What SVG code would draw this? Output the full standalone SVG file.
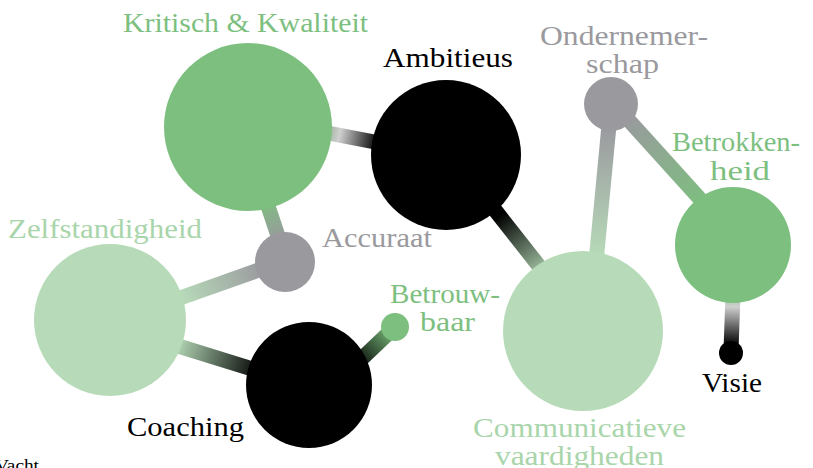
<svg xmlns="http://www.w3.org/2000/svg" width="813" height="468" viewBox="0 0 813 468">
<style>
text{font-family:"Liberation Serif","DejaVu Serif",serif;font-size:27px}
.g{fill:#7dbf7f}.lg{fill:#b7dbb9}.gr{fill:#9a999e}.k{fill:#000}
.tg{fill:#7dbf7f}.tlg{fill:#a9d5ab}.tgr{fill:#9a999e}.tk{fill:#000}
.c{stroke-width:15;fill:none}
</style>
<defs>
<linearGradient id="g1" gradientUnits="userSpaceOnUse" x1="330" y1="133" x2="378" y2="143"><stop offset="0" stop-color="#a8b8a8"/><stop offset="0.2" stop-color="#d0d0d0"/><stop offset="1" stop-color="#000"/></linearGradient>
<linearGradient id="g2" gradientUnits="userSpaceOnUse" x1="266" y1="200" x2="280" y2="240"><stop offset="0" stop-color="#7dbf7f"/><stop offset="1" stop-color="#9a999e"/></linearGradient>
<linearGradient id="g3" gradientUnits="userSpaceOnUse" x1="265" y1="268" x2="180" y2="298"><stop offset="0" stop-color="#9a999e"/><stop offset="1" stop-color="#b7dbb9"/></linearGradient>
<linearGradient id="g4" gradientUnits="userSpaceOnUse" x1="175" y1="345" x2="260" y2="372"><stop offset="0" stop-color="#b7dbb9"/><stop offset="1" stop-color="#000"/></linearGradient>
<linearGradient id="g5" gradientUnits="userSpaceOnUse" x1="355" y1="365" x2="393" y2="328"><stop offset="0" stop-color="#000"/><stop offset="1" stop-color="#7dbf7f"/></linearGradient>
<linearGradient id="g6" gradientUnits="userSpaceOnUse" x1="500" y1="215" x2="548" y2="278"><stop offset="0" stop-color="#000"/><stop offset="1" stop-color="#b7dbb9"/></linearGradient>
<linearGradient id="g7" gradientUnits="userSpaceOnUse" x1="608" y1="125" x2="596" y2="258"><stop offset="0" stop-color="#9a999e"/><stop offset="1" stop-color="#b7dbb9"/></linearGradient>
<linearGradient id="g8" gradientUnits="userSpaceOnUse" x1="625" y1="115" x2="705" y2="205"><stop offset="0" stop-color="#9a999e"/><stop offset="1" stop-color="#7dbf7f"/></linearGradient>
<linearGradient id="g9" gradientUnits="userSpaceOnUse" x1="733" y1="300" x2="731" y2="345"><stop offset="0" stop-color="#b0c8b0"/><stop offset="0.15" stop-color="#d0d0d0"/><stop offset="1" stop-color="#000"/></linearGradient>
</defs>
<g id="connectors">
<line class="c" stroke="url(#g1)" x1="328" y1="133" x2="380" y2="143"/>
<line class="c" stroke="url(#g2)" x1="266" y1="200" x2="281" y2="245"/>
<line class="c" stroke="url(#g3)" x1="270" y1="266" x2="180" y2="298"/>
<line class="c" stroke="url(#g4)" x1="175" y1="345" x2="262" y2="372"/>
<line class="c" stroke="url(#g5)" x1="355" y1="365" x2="395" y2="327"/>
<line class="c" stroke="url(#g6)" x1="495" y1="210" x2="550" y2="280"/>
<line class="c" stroke="url(#g7)" x1="610" y1="115" x2="596" y2="262"/>
<line class="c" stroke="url(#g8)" x1="615" y1="105" x2="710" y2="210"/>
<line class="c" stroke="url(#g9)" x1="733" y1="295" x2="731" y2="350"/>
</g>
<g id="kritisch"><circle class="g" cx="248" cy="127" r="84"/><text class="tg" x="123" y="32" textLength="245" lengthAdjust="spacingAndGlyphs">Kritisch &amp; Kwaliteit</text></g>
<g id="ambitieus"><circle class="k" cx="446" cy="155" r="75"/><text class="tk" x="383" y="67" textLength="130" lengthAdjust="spacingAndGlyphs">Ambitieus</text></g>
<g id="accuraat"><circle class="gr" cx="285" cy="262" r="30"/><text class="tgr" x="322" y="247" textLength="110" lengthAdjust="spacingAndGlyphs">Accuraat</text></g>
<g id="zelfstandigheid"><circle class="lg" cx="110" cy="320" r="76"/><text class="tlg" x="8" y="238" textLength="194" lengthAdjust="spacingAndGlyphs">Zelfstandigheid</text></g>
<g id="coaching"><circle class="k" cx="309" cy="385" r="63"/><text class="tk" x="127" y="436" textLength="117" lengthAdjust="spacingAndGlyphs">Coaching</text></g>
<g id="betrouwbaar"><circle class="g" cx="395" cy="327" r="14"/><text class="tg" x="390" y="303" textLength="110" lengthAdjust="spacingAndGlyphs">Betrouw-</text><text class="tg" x="420" y="331" textLength="55" lengthAdjust="spacingAndGlyphs">baar</text></g>
<g id="communicatieve"><circle class="lg" cx="583" cy="331" r="80"/><text class="tlg" x="473" y="437" textLength="213" lengthAdjust="spacingAndGlyphs">Communicatieve</text><text class="tlg" x="495" y="465" textLength="169" lengthAdjust="spacingAndGlyphs">vaardigheden</text></g>
<g id="ondernemerschap"><circle class="gr" cx="611" cy="104" r="27"/><text class="tgr" x="540" y="45" textLength="168" lengthAdjust="spacingAndGlyphs">Ondernemer-</text><text class="tgr" x="586" y="73" textLength="73" lengthAdjust="spacingAndGlyphs">schap</text></g>
<g id="betrokkenheid"><circle class="g" cx="733" cy="245" r="58"/><text class="tg" x="672" y="151" textLength="128" lengthAdjust="spacingAndGlyphs">Betrokken-</text><text class="tg" x="710" y="180" textLength="60" lengthAdjust="spacingAndGlyphs">heid</text></g>
<g id="visie"><circle class="k" cx="731" cy="353" r="12"/><text class="tk" x="702" y="392" textLength="60" lengthAdjust="spacingAndGlyphs">Visie</text></g>
<text class="tk" x="-5" y="471" style="font-size:17px" textLength="44" lengthAdjust="spacingAndGlyphs">Vacht</text>
</svg>
